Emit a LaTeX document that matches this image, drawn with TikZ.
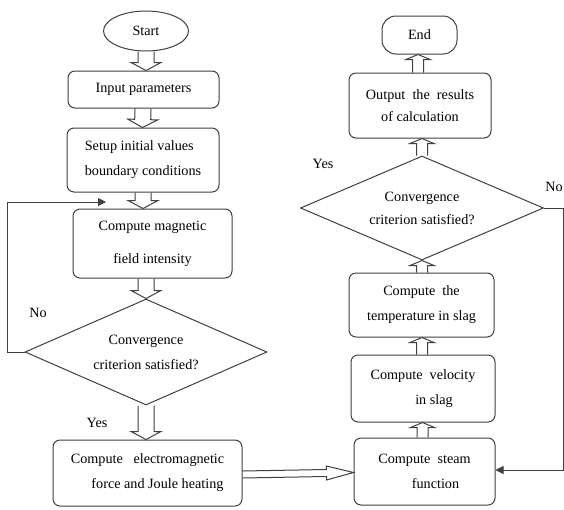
\documentclass[tikz,border=0pt]{standalone}
\usepackage{fontspec}
\setmainfont{Liberation Serif}
\usetikzlibrary{shapes.geometric,calc,arrows.meta}

\tikzset{
  every picture/.style={x=1pt,y=-1pt},
  ln/.style={draw=black!75,line width=1pt},
  proc/.style={ln,rectangle,rounded corners=7pt,inner sep=0pt,align=center,
    font=\fontsize{14.2}{25}\selectfont},
  decision/.style={ln,diamond,aspect=2.3,inner sep=0pt,align=center,
    font=\fontsize{14.2}{25}\selectfont},
  lbl/.style={font=\fontsize{14.2}{16}\selectfont,inner sep=0pt},
  % outlined block arrow: #1 shaft half-width, #2 head half-width, #3 head length
  hollow/.style n args={3}{ln,to path={
    let \p1=(\tikztostart), \p2=(\tikztotarget), \p3=($(\p2)!#3!(\p1)$) in
    ($(\p1)!#1!90:(\p2)$) -- ($(\p3)!#1!90:(\p2)$) -- ($(\p3)!#2!90:(\p2)$)
    -- (\p2) -- ($(\p3)!#2!-90:(\p2)$) -- ($(\p3)!#1!-90:(\p2)$)
    -- ($(\p1)!#1!-90:(\p2)$)}},
  bigdown/.style={hollow={8pt}{15pt}{8pt}},
  smallup/.style={hollow={5.5pt}{12pt}{5pt}},
  loop/.style={ln,-{Triangle[length=8pt,width=8pt]}},
}

\begin{document}
\begin{tikzpicture}
\useasboundingbox[fill=white] (0,0) rectangle (564,509);

% left column
\node[ln,ellipse,minimum width=85pt,minimum height=40pt,inner sep=0pt,
  font=\fontsize{14.2}{16}\selectfont] (start) at (146,31) {Start};
\node[proc,minimum width=151pt,minimum height=37pt] (input) at (143.5,89.5) {Input parameters};
\node[proc,minimum width=152pt,minimum height=64pt,align=left] (setup) at (143,160)
  {Setup initial values\\boundary conditions};
\node[proc,minimum width=159pt,minimum height=69pt,
  font=\fontsize{14.2}{33}\selectfont] (field) at (152.5,243.5)
  {Compute magnetic\\field intensity};
\node[decision,minimum width=242pt,minimum height=106pt] (conv1) at (146,352)
  {Convergence\\criterion satisfied?};
\node[proc,minimum width=189pt,minimum height=66pt] (emf) at (147.5,473)
  {Compute\ \ \ electromagnetic\\\hspace*{20pt}force and Joule heating};

% right column
\node[proc,minimum width=141pt,minimum height=67pt] (steam) at (424.5,471.5)
  {Compute\ \ steam\\\hspace*{22pt}function};
\node[proc,minimum width=144pt,minimum height=67pt] (vel) at (423,388.5)
  {Compute\ \ velocity\\\hspace*{22pt}in slag};
\node[proc,minimum width=145pt,minimum height=64pt] (temp) at (421.5,305)
  {Compute\ \ the\\temperature in slag};
\node[decision,minimum width=243pt,minimum height=104pt,
  font=\fontsize{14.2}{23}\selectfont] (conv2) at (422,208)
  {Convergence\\criterion satisfied?};
\node[proc,minimum width=142pt,minimum height=65pt,
  font=\fontsize{14.2}{22}\selectfont] (out) at (420,105.5)
  {Output\ \ the\ \ results\\of calculation};
\node[proc,rounded corners=14pt,minimum width=75pt,minimum height=38pt,
  font=\fontsize{14.2}{16}\selectfont] (end) at (419.5,35) {End};

% flow of the left column
\draw[bigdown] (start.south) to ([xshift=2.5pt]input.north);
\draw[bigdown] ([xshift=-0.5pt]input.south) to ([xshift=-0.5pt]setup.north);
\draw[bigdown] (setup.south) to ([xshift=-9.5pt]field.north);
\draw[bigdown] ([xshift=-6.5pt]field.south) to (conv1.north);
\draw[bigdown] (conv1.south) to ([xshift=-1.5pt]emf.north);

% transfer to the right column
\draw[hollow={3.5pt}{7pt}{27pt}] ([yshift=-1.5pt]emf.east) to ([yshift=-1pt]steam.west);

% flow of the right column
\draw[smallup] ([xshift=-2pt]steam.north) to ([xshift=-0.5pt]vel.south);
\draw[smallup] ([xshift=-1pt]vel.north) to ([xshift=0.5pt]temp.south);
\draw[smallup] ([xshift=0.5pt]temp.north) to (conv2.south);
\draw[smallup] (conv2.north) to ([xshift=2pt]out.south);
\draw[smallup] ([xshift=-2pt]out.north) to ([xshift=-1.5pt]end.south);

% iteration loops
\coordinate (reentry) at (106,202);
\draw[loop] (conv1.west) -- ++(-17,0) |- (reentry);
\coordinate (farright) at (563,208);
\draw[loop] (conv2.east) -- (farright) |- ([yshift=1.5pt]steam.east);

% branch labels
\node[lbl] at (38,313) {No};
\node[lbl] at (97,423) {Yes};
\node[lbl] at (323,164) {Yes};
\node[lbl,anchor=east] at (563,187) {No};
\end{tikzpicture}
\end{document}
